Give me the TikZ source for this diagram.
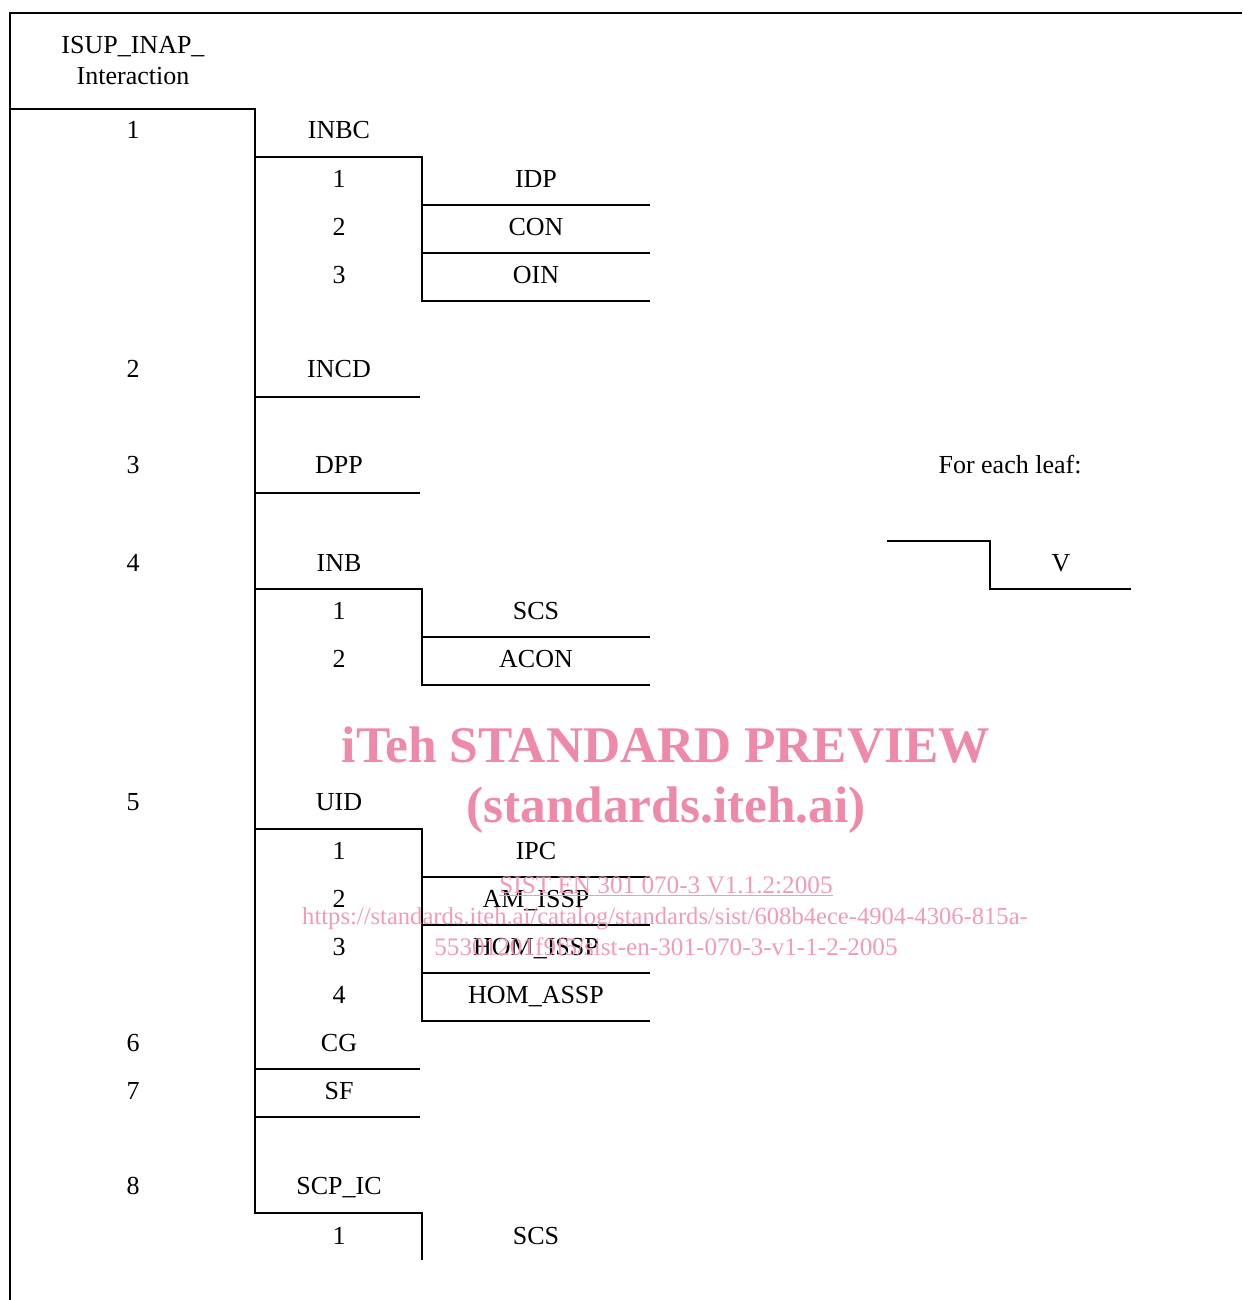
\documentclass[tikz,border=0pt]{standalone}
\usepackage{fontspec}
\setmainfont{Liberation Serif}
\definecolor{wmpink}{RGB}{238,138,168}
\definecolor{wmlight}{RGB}{242,155,183}
\begin{document}
\begin{tikzpicture}[x=1pt,y=-1pt,
  ln/.style={line width=2pt},
  lbl/.style={anchor=base, inner sep=0pt, font=\fontsize{26}{30}\selectfont},
  wm/.style={anchor=base, inner sep=0pt, text=wmpink, font=\bfseries\fontsize{51.4}{56}\selectfont},
  wms/.style={anchor=base, inner sep=0pt, text=wmlight, font=\fontsize{25.2}{30}\selectfont}]
\useasboundingbox (0,0) rectangle (1242,1300);

% frame and tree lines
\draw[ln] (1242,13) -- (10,13) -- (10,1300);
\draw[ln] (10,109) -- (255,109) -- (255,1213) -- (422,1213) -- (422,1260);
\draw[ln] (255,157) -- (422,157) -- (422,301) -- (650,301);
\draw[ln] (422,205) -- (650,205);
\draw[ln] (422,253) -- (650,253);
\draw[ln] (255,397) -- (420,397);
\draw[ln] (255,493) -- (420,493);
\draw[ln] (255,589) -- (422,589) -- (422,685) -- (650,685);
\draw[ln] (422,637) -- (650,637);
\draw[ln] (255,829) -- (422,829) -- (422,1021) -- (650,1021);
\draw[ln] (422,877) -- (650,877);
\draw[ln] (422,925) -- (650,925);
\draw[ln] (422,973) -- (650,973);
\draw[ln] (255,1069) -- (420,1069);
\draw[ln] (255,1117) -- (420,1117);
% legend
\draw[ln] (887,541) -- (990,541) -- (990,589) -- (1131,589);

% labels
\node[lbl] (root1) at (133,54) {ISUP\_INAP\_};
\node[lbl] (root2) at (133,85) {Interaction};

\node[lbl] (n1) at (133,139) {1};
\node[lbl] (inbc) at (339,139) {INBC};
\node[lbl] (inbc1) at (339,187) {1};
\node[lbl] (idp) at (536,187) {IDP};
\node[lbl] (inbc2) at (339,235) {2};
\node[lbl] (con) at (536,235) {CON};
\node[lbl] (inbc3) at (339,283) {3};
\node[lbl] (oin) at (536,283) {OIN};

\node[lbl] (n2) at (133,377) {2};
\node[lbl] (incd) at (339,377) {INCD};
\node[lbl] (n3) at (133,473) {3};
\node[lbl] (dpp) at (339,473) {DPP};
\node[lbl] (leaf) at (1010,473) {For each leaf:};

\node[lbl] (n4) at (133,571) {4};
\node[lbl] (inb) at (339,571) {INB};
\node[lbl] (v) at (1061,571) {V};
\node[lbl] (inb1) at (339,619) {1};
\node[lbl] (scs) at (536,619) {SCS};
\node[lbl] (inb2) at (339,667) {2};
\node[lbl] (acon) at (536,667) {ACON};

\node[lbl] (n5) at (133,810) {5};
\node[lbl] (uid) at (339,810) {UID};
\node[lbl] (uid1) at (339,859) {1};
\node[lbl] (ipc) at (536,859) {IPC};
\node[lbl] (uid2) at (339,907) {2};
\node[lbl] (amissp) at (536,907) {AM\_ISSP};
\node[lbl] (uid3) at (339,955) {3};
\node[lbl] (homissp) at (536,955) {HOM\_ISSP};
\node[lbl] (uid4) at (339,1003) {4};
\node[lbl] (homassp) at (536,1003) {HOM\_ASSP};

\node[lbl] (n6) at (133,1051) {6};
\node[lbl] (cg) at (339,1051) {CG};
\node[lbl] (n7) at (133,1099) {7};
\node[lbl] (sf) at (339,1099) {SF};
\node[lbl] (n8) at (133,1194) {8};
\node[lbl] (scpic) at (339,1194) {SCP\_IC};
\node[lbl] (scp1) at (339,1244) {1};
\node[lbl] (scs2) at (536,1244) {SCS};

% watermark
\node[wm] (wm1) at (666,762) {iTeh STANDARD PREVIEW};
\node[wm] (wm2) at (666,822) {(standards.iteh.ai)};
\node[wms] (sist) at (666,893) {SIST EN 301 070-3 V1.1.2:2005};
\draw[wmlight, line width=1.3pt] ([yshift=-2.5pt]sist.base west) -- ([yshift=-2.5pt]sist.base east);
\node[wms, font=\fontsize{24.6}{30}\selectfont] (url1) at (665,924) {https://standards.iteh.ai/catalog/standards/sist/608b4ece-4904-4306-815a-};
\node[wms] (url2) at (666,955) {55301201f9f5/sist-en-301-070-3-v1-1-2-2005};
\end{tikzpicture}
\end{document}
